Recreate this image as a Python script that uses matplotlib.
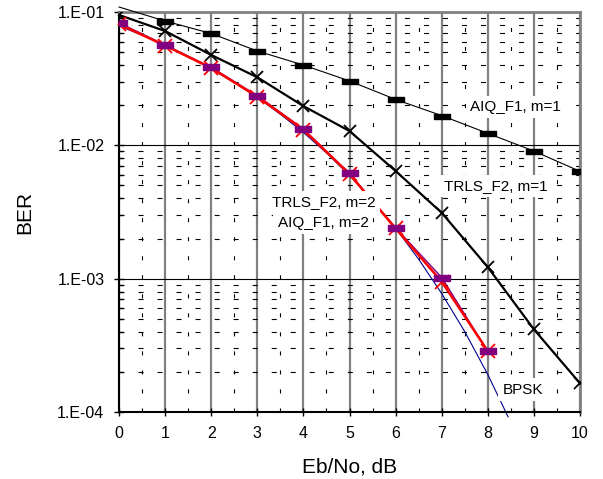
import numpy as np
import matplotlib
matplotlib.use("Agg")
import matplotlib.pyplot as plt
from matplotlib.ticker import LogLocator, MultipleLocator, FuncFormatter, NullFormatter
from matplotlib.path import Path

plt.rcParams['font.family'] = ['Liberation Sans', 'DejaVu Sans']
plt.rcParams['lines.scale_dashes'] = False

# ---- data ----
snr = [0, 1, 2, 3, 4, 5, 6, 7, 8, 9, 10]
aiq_f1_m1 = [0.109, 0.0856, 0.069, 0.051, 0.040, 0.0304, 0.0221, 0.0167, 0.0123, 0.00906, 0.00638]
trls_f2_m1 = [0.095, 0.072, 0.0476, 0.0324, 0.0197, 0.0128, 0.00642, 0.00312, 0.00122, 0.000417, 0.000164]

snr_m2 = [0, 1, 2, 3, 4, 5, 6, 7, 8]
trls_f2_m2 = [0.081, 0.0560, 0.0380, 0.0232, 0.0131, 0.00608, 0.00238, 0.00095, 0.000286]
aiq_f1_m2 = [0.083, 0.0566, 0.0385, 0.0236, 0.01326, 0.00616, 0.00241, 0.00102, 0.000286]

snr_bpsk = [0, 0.5, 1, 1.5, 2, 2.5, 3, 3.5, 4, 4.5, 5, 5.5, 6, 6.5, 7, 7.5, 8, 8.44]
ber_bpsk = [0.0786, 0.0671, 0.0563, 0.0464, 0.0375, 0.0296, 0.0229, 0.0171, 0.0125,
            0.00878, 0.00595, 0.00386, 0.00239, 0.00140, 0.000773, 0.000401, 0.000191, 0.000092]

W, H = 603, 479
fig = plt.figure(figsize=(W / 100, H / 100), dpi=100)
L, R, T, B = 119, 580, 12, 412
ax = fig.add_axes([L / W, 1 - B / H, (R - L) / W, (B - T) / H])
ax.set_yscale('log')
ax.set_xlim(0, 10)
ax.set_ylim(1e-4, 1e-1)

# grid
ax.xaxis.set_major_locator(MultipleLocator(1))
ax.xaxis.set_minor_locator(MultipleLocator(0.5))
ax.yaxis.set_major_locator(LogLocator(base=10, numticks=10))
ax.yaxis.set_minor_locator(LogLocator(base=10, subs=np.arange(2, 10), numticks=20))
ax.yaxis.set_minor_formatter(NullFormatter())
ax.yaxis.set_major_formatter(FuncFormatter(lambda v, p: "1.E-%02d" % round(-np.log10(v))))

ax.xaxis.grid(True, which='major', color='#808080', lw=1.6, zorder=0)
ax.yaxis.grid(True, which='major', color='black', lw=0.8, zorder=0)
ax.xaxis.grid(True, which='minor', color='black', lw=0.8, ls=(0, (2.9, 10.8)), zorder=0)
ax.yaxis.grid(True, which='minor', color='black', lw=0.8, ls=(0, (3.6, 10.1)), zorder=0)
ax.set_axisbelow(True)

for s in ['left', 'bottom']:
    ax.spines[s].set_color('black')
    ax.spines[s].set_linewidth(1.5)
for s in ['top', 'right']:
    ax.spines[s].set_color('#808080')
    ax.spines[s].set_linewidth(2)

ax.tick_params(axis='y', which='major', direction='inout', length=7, width=1, labelsize=11.5, pad=7)
ax.tick_params(axis='y', which='minor', direction='in', length=3, width=1)
ax.tick_params(axis='x', which='major', direction='inout', length=6, width=1, labelsize=11.5, pad=7)
ax.tick_params(axis='x', which='minor', length=0)

bar = Path([(-1, -0.3), (1, -0.3), (1, 0.3), (-1, 0.3), (-1, -0.3)],
           [Path.MOVETO, Path.LINETO, Path.LINETO, Path.LINETO, Path.CLOSEPOLY])
bar2 = Path([(-1, -0.42), (1, -0.42), (1, 0.42), (-1, 0.42), (-1, -0.42)],
            [Path.MOVETO, Path.LINETO, Path.LINETO, Path.LINETO, Path.CLOSEPOLY])

# lines (not clipped, like the original)
ax.plot(snr_bpsk, ber_bpsk, color='#000090', lw=0.8, clip_on=False, zorder=2)
ax.plot(snr, aiq_f1_m1, color='black', lw=0.8, clip_on=False, zorder=3)
ax.plot(snr, trls_f2_m1, color='black', lw=1.6, clip_on=False, zorder=3)
ax.plot(snr_m2, aiq_f1_m2, color='#800080', lw=1.0, clip_on=False, zorder=3)
ax.plot(snr_m2, trls_f2_m2, color='red', lw=1.8, clip_on=False, zorder=3)

# markers
ax.plot(snr, aiq_f1_m1, ls='none', marker=bar, ms=12, color='black', zorder=5)
ax.plot(snr, trls_f2_m1, ls='none', marker='x', ms=9, mew=1.3, color='black', zorder=5)
ax.plot(snr_m2, trls_f2_m2, ls='none', marker='x', ms=10, mew=1.3, color='red', zorder=5)
ax.plot(snr_m2, aiq_f1_m2, ls='none', marker=bar2, ms=11.5, color='#800080', zorder=6)

def px(x, y):
    return x / W, 1 - y / H

box = dict(facecolor='white', edgecolor='none', pad=3)
for txt, (x, y) in [("AIQ_F1, m=1", (515.5, 107)),
                    ("TRLS_F2, m=1", (495.5, 186)),
                    ("TRLS_F2, m=2", (324, 202)),
                    ("AIQ_F1, m=2", (323, 223)),
                    ("BPSK", (522.5, 389.5))]:
    fig.text(*px(x, y), txt, ha='center', va='center', fontsize=11, bbox=box, zorder=10)

fig.text(*px(25, 212), "BER", rotation=90, ha='center', va='center', fontsize=15)
fig.text(*px(350, 467), "Eb/No, dB", ha='center', va='center', fontsize=15)

fig.savefig("out.png", dpi=100)
